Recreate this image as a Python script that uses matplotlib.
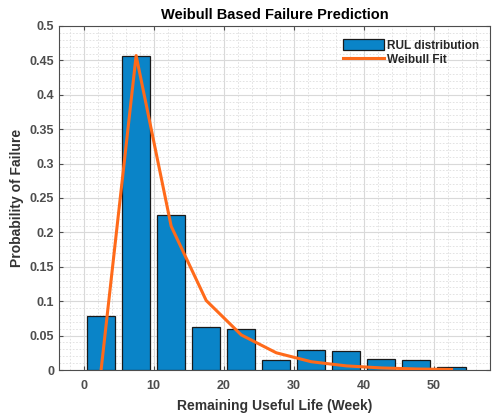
import matplotlib
matplotlib.use("Agg")
import matplotlib.pyplot as plt
from matplotlib.ticker import MultipleLocator

bin_centers = [2.5, 7.5, 12.5, 17.5, 22.5, 27.5, 32.5, 37.5, 42.5, 47.5, 52.5]
rul_prob = [0.078, 0.456, 0.225, 0.063, 0.060, 0.014, 0.029, 0.028, 0.016, 0.015, 0.005]
fit_x = [2.5, 7.5, 12.5, 17.5, 22.5, 27.5, 32.5, 37.5, 42.5, 47.5, 52.5]
fit_y = [0.0, 0.457, 0.209, 0.101, 0.051, 0.025, 0.012, 0.006, 0.003, 0.0015, 0.0007]
y_ticks = [0, 0.05, 0.1, 0.15, 0.2, 0.25, 0.3, 0.35, 0.4, 0.45, 0.5]
y_tick_labels = ['0', '0.05', '0.1', '0.15', '0.2', '0.25', '0.3', '0.35', '0.4', '0.45', '0.5']

plt.rcParams['font.family'] = ['Liberation Sans', 'DejaVu Sans']
plt.rcParams['font.weight'] = 'bold'
plt.rcParams['axes.labelweight'] = 'bold'
plt.rcParams['axes.titleweight'] = 'bold'

fig = plt.figure(figsize=(4.92, 4.17), dpi=100)
ax = fig.add_axes([0.12, 0.1127, 0.876, 0.825])

bars = ax.bar(bin_centers, rul_prob, width=4.0, color='#0a84c8', edgecolor='#1a1a1a',
              linewidth=0.9, label='RUL distribution', zorder=3)
line, = ax.plot(fit_x, fit_y, color='#ff6a1a', linewidth=2.2, label='Weibull Fit', zorder=4)

ax.set_xlim(-3.5, 58)
ax.set_ylim(0, 0.5)
ax.xaxis.set_major_locator(MultipleLocator(10))
ax.xaxis.set_minor_locator(MultipleLocator(2))
ax.yaxis.set_minor_locator(MultipleLocator(0.01))
ax.set_yticks(y_ticks)
ax.set_yticklabels(y_tick_labels)

ax.grid(which='major', color='#d9d9d9', linewidth=0.8, zorder=0)
ax.grid(which='minor', color='#dedede', linewidth=0.6, linestyle=(0, (2, 2)), zorder=0)
ax.set_axisbelow(True)

ax.tick_params(which='both', direction='in', top=True, right=True, labelsize=9,
               labelcolor='#4d4d4d', color='#4d4d4d', length=3)
ax.tick_params(axis='x', pad=7)
ax.tick_params(which='minor', length=0)
for s in ax.spines.values():
    s.set_color('#4d4d4d')
    s.set_linewidth(0.8)

ax.set_title('Weibull Based Failure Prediction', fontsize=10.5, fontweight='bold', pad=5)
ax.set_xlabel('Remaining Useful Life (Week)', fontsize=10, color='#333333', labelpad=5)
ax.set_ylabel('Probability of Failure', fontsize=10, color='#333333', labelpad=4)

leg = ax.legend([bars, line], ['RUL distribution', 'Weibull Fit'], loc='upper right',
                frameon=False, fontsize=8.5, handlelength=3.5, handleheight=1.0,
                handletextpad=0.3, borderaxespad=0.3, labelspacing=0.15,
                bbox_to_anchor=(0.995, 0.985))
for t in leg.get_texts():
    t.set_color('#262626')

fig.savefig('out.png', dpi=100)
